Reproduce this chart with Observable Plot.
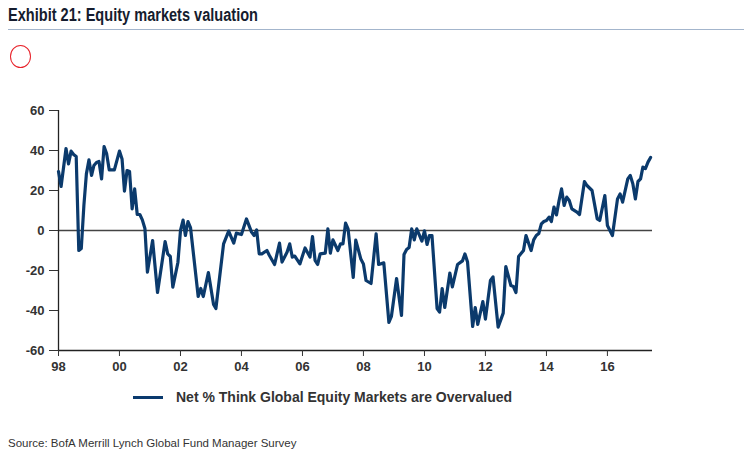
<!DOCTYPE html>
<html><head><meta charset="utf-8">
<script src="https://cdn.jsdelivr.net/npm/d3@7"></script>
<script src="https://cdn.jsdelivr.net/npm/@observablehq/plot@0.6"></script>
<style>
html,body{margin:0;padding:0;background:#fff}
body{width:744px;height:458px;overflow:hidden;position:relative;font-family:"Liberation Sans",Arial,sans-serif}
#title{position:absolute;left:8px;top:5px;font-weight:bold;font-size:18px;font-family:"Liberation Sans",Arial,sans-serif;color:#151c2e;white-space:nowrap;transform-origin:0 0}
#rule{position:absolute;left:8px;right:0;top:29px;height:1px;background:#a3b5cc}
#circle{position:absolute;left:10px;top:45px;width:21px;height:23px;border:1.4px solid #e8222a;border-radius:50%;box-sizing:border-box}
#chart{position:absolute;left:0;top:0}
#legend{position:absolute;top:389px;left:133px;display:flex;align-items:center;white-space:nowrap;font-weight:bold;font-size:14px;color:#333}
#legend .sw{display:inline-block;width:30px;height:3px;background:#0a3a6e;margin-right:13px}
#source{position:absolute;left:8px;top:437px;font-size:11.5px;color:#333;white-space:nowrap}
</style></head>
<body>
<div id="chart"></div>
<div id="title"></div>
<div id="rule"></div>
<div id="circle"></div>
<div id="legend"><span class="sw"></span><span id="legtext"></span></div>
<div id="source"></div>
<script>
const titleText = "Exhibit 21: Equity markets valuation";
const seriesName = "Net % Think Global Equity Markets are Overvalued";
const sourceText = "Source: BofA Merrill Lynch Global Fund Manager Survey";

const months = ["1998-01","1998-02","1998-04","1998-05","1998-06","1998-07","1998-08","1998-09","1998-10","1998-11","1998-12",
"1999-01","1999-02","1999-03","1999-04","1999-05","1999-06","1999-07","1999-08","1999-09","1999-11",
"2000-01","2000-02","2000-03","2000-04","2000-05","2000-06","2000-07","2000-08","2000-09","2000-10","2000-11","2000-12",
"2001-02","2001-04","2001-07","2001-08","2001-09","2001-10","2001-12",
"2002-01","2002-02","2002-03","2002-04","2002-05","2002-08","2002-09","2002-10","2002-12",
"2003-02","2003-03","2003-06","2003-08","2003-10","2003-11",
"2004-01","2004-03","2004-05","2004-06","2004-07","2004-08","2004-09","2004-11","2004-12",
"2005-02","2005-04","2005-05","2005-07","2005-08","2005-09","2005-10","2005-12",
"2006-02","2006-04","2006-05","2006-06","2006-07","2006-08","2006-10","2006-11","2006-12",
"2007-01","2007-02","2007-03","2007-04","2007-05","2007-06","2007-07","2007-09","2007-10","2007-12",
"2008-01","2008-02","2008-04","2008-06","2008-07","2008-09","2008-11","2008-12",
"2009-02","2009-04","2009-05","2009-06","2009-07","2009-08","2009-09","2009-10","2009-12",
"2010-01","2010-02","2010-03","2010-04","2010-06","2010-07","2010-08","2010-09","2010-11","2010-12",
"2011-02","2011-04","2011-05","2011-06","2011-08","2011-09","2011-10","2011-12",
"2012-01","2012-03","2012-04","2012-06","2012-08","2012-09","2012-11","2012-12",
"2013-01","2013-02","2013-04","2013-05","2013-07","2013-08","2013-09","2013-10","2013-11","2013-12",
"2014-01","2014-02","2014-03","2014-04","2014-05","2014-06","2014-07","2014-08","2014-09","2014-10","2014-11",
"2015-01","2015-02","2015-04","2015-05","2015-07","2015-09","2015-10","2015-12",
"2016-01","2016-03","2016-05","2016-06","2016-07","2016-09","2016-10","2016-11","2016-12",
"2017-01","2017-02","2017-03","2017-04","2017-05","2017-06"];

const values = [29.5,22,41,33.3,39.7,38,37,-10,-9,12.5,28.3,
35.3,27.5,32.5,34,34.5,25.8,42,38.3,30.3,30.3,
39.7,35.8,19.7,30,29.5,10.8,20.8,8,8,5.3,1,-20.8,
-5,-31,-5.5,-11.7,-13,-28.3,-16,
0,5.2,-2.5,4.5,1.5,-33,-29,-33,-21,
-37,-39,-6.7,-0.3,-6.3,-1.3,
-2,5.8,-0.8,-2.5,0.3,-11.7,-11.7,-10,-12.5,
-17,-6.3,-15.8,-10.8,-6.7,-13.3,-12.8,-16.7,
-8.7,-13.3,-3,-15,-17,-11.7,-11.3,0.8,-11.3,
-4.7,-7.5,-10,-6.7,-6.7,3.7,0.8,-23.5,-4.8,-14.3,
-16.7,-25,-26.5,-1.7,-17,-16.2,-46,-43,
-24,-42.5,-12,-9.5,-8.5,0.8,-4.7,0.8,-5.3,
-0.2,-7,-2.5,-2.5,-39,-40.8,-29,-38.5,-21.3,-28.2,
-17,-15.2,-11.7,-15.8,-48,-38.5,-47,-35.5,
-44.3,-25,-23.2,-48.3,-41.3,-18,-27.5,-28,
-31,-13,-10,-2.5,-10,-4.7,-2.5,-1.5,3.3,4.5,
5,6.7,4.5,11.7,7.8,15,20.8,12.5,16.7,15,10.8,
9.2,8,24.5,22.5,20,5.8,5,17.5,
2.5,-2.5,15.8,18.3,14.2,25.8,27.5,23.3,15.8,
24.5,25.8,31.7,31,34.2,36.5];

const yTicks = [-60,-40,-20,0,20,40,60];
const xTickYears = [1998,2000,2002,2004,2006,2008,2010,2012,2014,2016];
const xTickLabels = ["98","00","02","04","06","08","10","12","14","16"];

const titleEl = document.getElementById("title");
titleEl.textContent = titleText;
const tw = titleEl.getBoundingClientRect().width;
titleEl.style.transform = "scaleX(" + (250 / tw) + ")";
document.getElementById("legtext").textContent = seriesName;
document.getElementById("source").textContent = sourceText;

const data = months.map((m,i)=>({date:new Date(m+"-01T00:00:00Z"), value:values[i]}));
const x0 = new Date("1998-01-01T00:00:00Z");
const x1 = new Date("2017-06-24T00:00:00Z");
const xTicks = xTickYears.map(y=>new Date(Date.UTC(y,0,1)));

const chart = Plot.plot({
  width: 744, height: 380,
  marginLeft: 58, marginRight: 92, marginTop: 110, marginBottom: 30,
  style: {fontFamily:"'Liberation Sans', Arial, sans-serif", fontSize:"13px", fontWeight:"bold", color:"#333", background:"transparent"},
  x: {type:"utc", domain:[x0,x1]},
  y: {domain:[-60,60]},
  marks: [
    Plot.ruleY([0], {stroke:"#444", strokeWidth:1.3}),
    Plot.ruleX([x0], {stroke:"#222", strokeWidth:1.3}),
    Plot.ruleY([-60], {stroke:"#222", strokeWidth:1.3}),
    Plot.line(data, {x:"date", y:"value", stroke:"#0b3a6c", strokeWidth:3.2, strokeLinejoin:"round"}),
    Plot.axisY({ticks:yTicks, tickSize:9, tickPadding:5, label:null, tickFormat:d=>String(d)}),
    Plot.axisX({ticks:xTicks, tickSize:6, tickPadding:5, label:null, tickFormat:(d,i)=>xTickLabels[xTickYears.indexOf(d.getUTCFullYear())]})
  ]
});
document.getElementById("chart").appendChild(chart);
</script>
</body></html>
